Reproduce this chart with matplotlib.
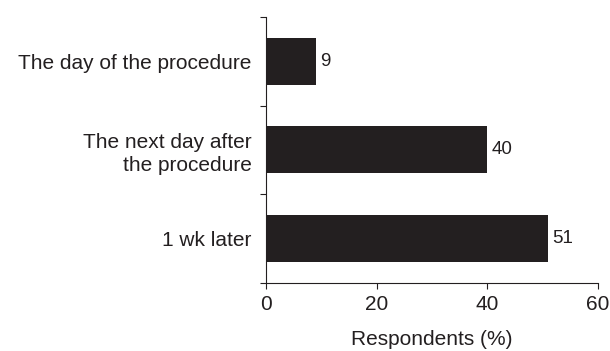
import matplotlib.pyplot as plt
import numpy as np

plt.rcParams['font.family'] = ['Liberation Sans', 'DejaVu Sans']

categories = ["The day of the procedure", "The next day after\nthe procedure", "1 wk later"]
values = [9, 40, 51]
xticks = [0, 20, 40, 60]

dark = '#231f20'

fig = plt.figure(figsize=(6.10, 3.51), dpi=100)
ax = fig.add_axes([0.436, 0.194, 0.544, 0.758])

y = np.arange(len(categories))
ax.barh(y, values, height=0.53, color=dark)
for yi, v in zip(y, values):
    ax.text(v + 0.8, yi, str(v), va='center', ha='left', fontsize=13.5, color=dark)

ax.set_ylim(len(categories) - 0.5, -0.5)
ax.set_xlim(0, 60)
ax.set_xticks(xticks)
ax.set_yticks(y)
ax.set_yticklabels(categories, fontsize=15, color=dark, linespacing=1.3)
ax.set_yticks(np.arange(len(categories) + 1) - 0.5, minor=True)
ax.tick_params(axis='y', which='major', length=0, pad=10.5)
ax.tick_params(axis='y', which='minor', length=4, width=0.8, color=dark)
ax.tick_params(axis='x', length=4, width=0.8, color=dark, labelsize=15, labelcolor=dark, pad=5)
ax.set_xlabel("Respondents (%)", fontsize=15, color=dark, labelpad=11)

for s in ['top', 'right']:
    ax.spines[s].set_visible(False)
for s in ['left', 'bottom']:
    ax.spines[s].set_linewidth(0.8)
    ax.spines[s].set_color(dark)

fig.savefig('out.png', dpi=100)
